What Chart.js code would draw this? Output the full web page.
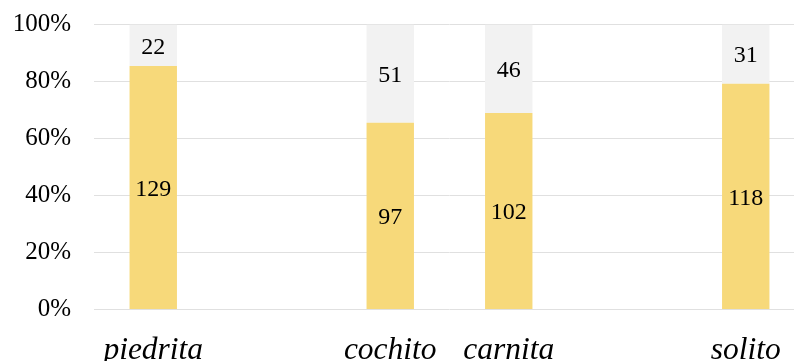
<!DOCTYPE html>
<html>
<head>
<meta charset="utf-8">
<script src="https://cdn.jsdelivr.net/npm/chart.js@4.4.1/dist/chart.umd.min.js"></script>
<style>
  html, body { margin: 0; padding: 0; background: #fff; overflow: hidden; }
  #wrap { width: 805px; height: 361px; }
</style>
</head>
<body>
<div id="wrap"><canvas id="chart" width="805" height="361"></canvas></div>
<script>
// ─── Données ─────────────────────────────
const categories = ['piedrita', '', 'cochito', 'carnita', '', 'solito'];
const countsYes  = [129, null, 97, 102, null, 118];
const countsNo   = [22, null, 51, 46, null, 31];
const yTicks     = [0, 20, 40, 60, 80, 100];

const SERIF = "'Liberation Serif', 'Times New Roman', serif";

// pourcentages pour l'empilement 100 %
function pct(a, b) {
  return a.map((v, i) => v == null ? null : v / (v + b[i]) * 100);
}
const pctYes = pct(countsYes, countsNo);
const pctNo  = pct(countsNo, countsYes);

// ─── Étiquettes dans les barres ──────────
const barLabels = {
  id: 'barLabels',
  afterDatasetsDraw(chart) {
    const ctx = chart.ctx;
    ctx.save();
    ctx.font = '24px ' + SERIF;
    ctx.fillStyle = '#000';
    ctx.textAlign = 'center';
    ctx.textBaseline = 'middle';
    chart.data.datasets.forEach((ds, di) => {
      chart.getDatasetMeta(di).data.forEach((bar, i) => {
        const raw = ds.counts[i];
        if (raw == null) return;
        ctx.fillText(String(raw), bar.x, (bar.y + bar.base) / 2 + 2);
      });
    });
    ctx.restore();
  }
};

new Chart(document.getElementById('chart'), {
  type: 'bar',
  data: {
    labels: categories,
    datasets: [
      { data: pctYes, counts: countsYes, backgroundColor: '#F7D97A' },
      { data: pctNo,  counts: countsNo,  backgroundColor: '#F2F2F2' }
    ]
  },
  options: {
    responsive: false,
    animation: false,
    events: [],
    layout: { padding: { top: 24.5, right: 0, bottom: 0, left: 0 } },
    datasets: { bar: { categoryPercentage: 1, barPercentage: 0.4 } },
    plugins: { legend: { display: false }, tooltip: { enabled: false } },
    scales: {
      x: {
        stacked: true,
        grid: { display: false },
        border: { display: false },
        ticks: {
          color: '#000',
          font: { family: SERIF, size: 31.5, style: 'italic' },
          padding: 14,
          maxRotation: 0,
          autoSkip: false
        },
        afterFit: s => { s.height = 51.5; }
      },
      y: {
        stacked: true,
        min: 0,
        max: 100,
        afterBuildTicks: s => { s.ticks = yTicks.map(v => ({ value: v })); },
        // écart label / grille via des graduations invisibles
        grid: { color: '#E0E0E0', lineWidth: 1, drawTicks: true, tickLength: 23, tickColor: 'rgba(0,0,0,0)' },
        border: { display: false },
        ticks: {
          color: '#000',
          font: { family: SERIF, size: 25 },
          padding: 0,
          callback: v => v + '%'
        },
        afterFit: s => { s.width = 94; }
      }
    }
  },
  plugins: [barLabels]
});
</script>
</body>
</html>
